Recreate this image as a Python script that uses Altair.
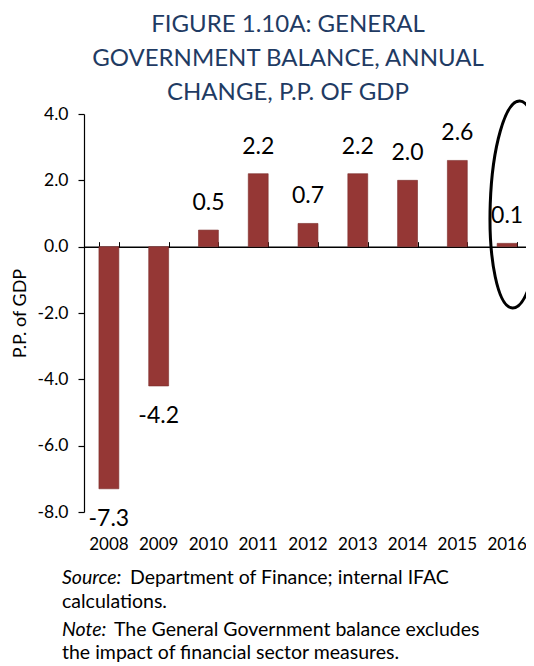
import altair as alt
import pandas as pd

# ---- data ----
years = ["2008", "2009", "2010", "2011", "2012", "2013", "2014", "2015", "2016"]
values = [-7.3, -4.2, 0.5, 2.2, 0.7, 2.2, 2.0, 2.6, 0.1]
y_ticks = [-8, -6, -4, -2, 0, 2, 4]
y_domain = [-8, 4]
title_lines = ["FIGURE 1.10A: GENERAL", "GOVERNMENT  BALANCE, ANNUAL", "CHANGE, P.P. OF GDP"]
y_title = "P.P. of GDP"
highlight_year = ["2016"]
highlight_level = [1.28]
source_label = "Source:"
source_text = ["Department of Finance; internal IFAC", "calculations."]
note_label = "Note:"
note_text = ["The General Government balance excludes", "the impact of financial sector measures."]

df = pd.DataFrame({"year": years, "value": values})
df["label"] = [f"{v:.1f}" for v in values]

W, H = 448, 398
FONT = "Lato"
BAR = "#953735"
zero_from_top = H * (y_domain[1] - 0) / (y_domain[1] - y_domain[0])

xscale = alt.Scale(domain=years, paddingInner=0.6, paddingOuter=0.3)

bars = alt.Chart(df).mark_bar(color=BAR, stroke="#7a2b2a", strokeWidth=0.6).encode(
    x=alt.X("year:N", sort=years, scale=xscale,
            axis=alt.Axis(title=None, domain=False, ticks=False, labelPadding=24,
                          labelFontSize=17, labelAngle=0, labelColor="black", labelFont=FONT)),
    y=alt.Y("value:Q", scale=alt.Scale(domain=y_domain, nice=False, zero=False),
            axis=alt.Axis(values=y_ticks, grid=False, title=y_title,
                          labelExpr="replace(format(datum.value, '.1f'), '\u2212', '-')",
                          domainColor="black", domainWidth=1.2, tickColor="black", tickSize=6,
                          tickWidth=1.2, labelFontSize=17.5, labelColor="black", labelFont=FONT,
                          labelPadding=10, titleFont=FONT, titleFontSize=18,
                          titleFontWeight="normal", titleColor="black", titlePadding=8)),
)

pos_labels = alt.Chart(df).transform_filter("datum.value >= 0").mark_text(
    font=FONT, fontSize=23, color="black", baseline="middle", dy=-27
).encode(
    x=alt.X("year:N", sort=years,
            axis=alt.Axis(title=None, labels=False, tickBand="extent", ticks=True, tickSize=5,
                          tickColor="black", tickWidth=1, domain=True, domainColor="black",
                          domainWidth=1.5, offset=-zero_from_top, grid=False)),
    y="value:Q",
    text="label:N",
)

neg_labels = alt.Chart(df).transform_filter("datum.value < 0").mark_text(
    font=FONT, fontSize=23, color="black", baseline="middle", dy=30
).encode(
    x=alt.X("year:N", sort=years, axis=None),
    y="value:Q",
    text="label:N",
)

a, k = 0.25, 0.5523
cx = 0.087
ellipse_path = (
    f"M {cx} -1 C {cx + k*a} -1 {cx + a} {-k} {cx + a} 0 "
    f"C {cx + a} {k} {cx + k*a} 1 {cx} 1 "
    f"C {cx - k*a} 1 {cx - a} {k} {cx - a} 0 "
    f"C {cx - a} {-k} {cx - k*a} -1 {cx} -1 Z"
)
ell_df = pd.DataFrame({"year": highlight_year, "value": highlight_level})
ellipse = alt.Chart(ell_df).mark_point(
    shape=ellipse_path, size=207 * 207, filled=False, stroke="black", strokeWidth=3,
    opacity=1, angle=2
).encode(
    x=alt.X("year:N", sort=years, axis=None),
    y="value:Q",
)

def note(text, x, y, italic=False):
    return alt.Chart(pd.DataFrame({"t": [text]})).mark_text(
        font=FONT, fontSize=19.5, color="black", align="left", baseline="middle",
        fontStyle="italic" if italic else "normal"
    ).encode(text="t:N", x=alt.value(x), y=alt.value(y))

notes = [
    note(source_label, -22, 464, True),
    note(source_text[0], 46, 464),
    note(source_text[1], -22, 488),
    note(note_label, -22, 516, True),
    note(note_text[0], 30, 516),
    note(note_text[1], -22, 539),
]

chart = alt.layer(bars, pos_labels, neg_labels, ellipse, *notes).resolve_axis(
    x="independent"
).properties(
    width=W, height=H,
    autosize=alt.AutoSizeParams(type="none"),
    padding={"left": 76, "top": 106, "right": -6, "bottom": 150},
    title=alt.TitleParams(text=title_lines, font=FONT, fontSize=24, fontWeight="normal",
                          color="#1f3b63", lineHeight=34, anchor="middle", dx=-20, offset=-10),
).configure_view(stroke=None)

chart.save("out.html", embed_options={"renderer": "svg", "actions": False})
